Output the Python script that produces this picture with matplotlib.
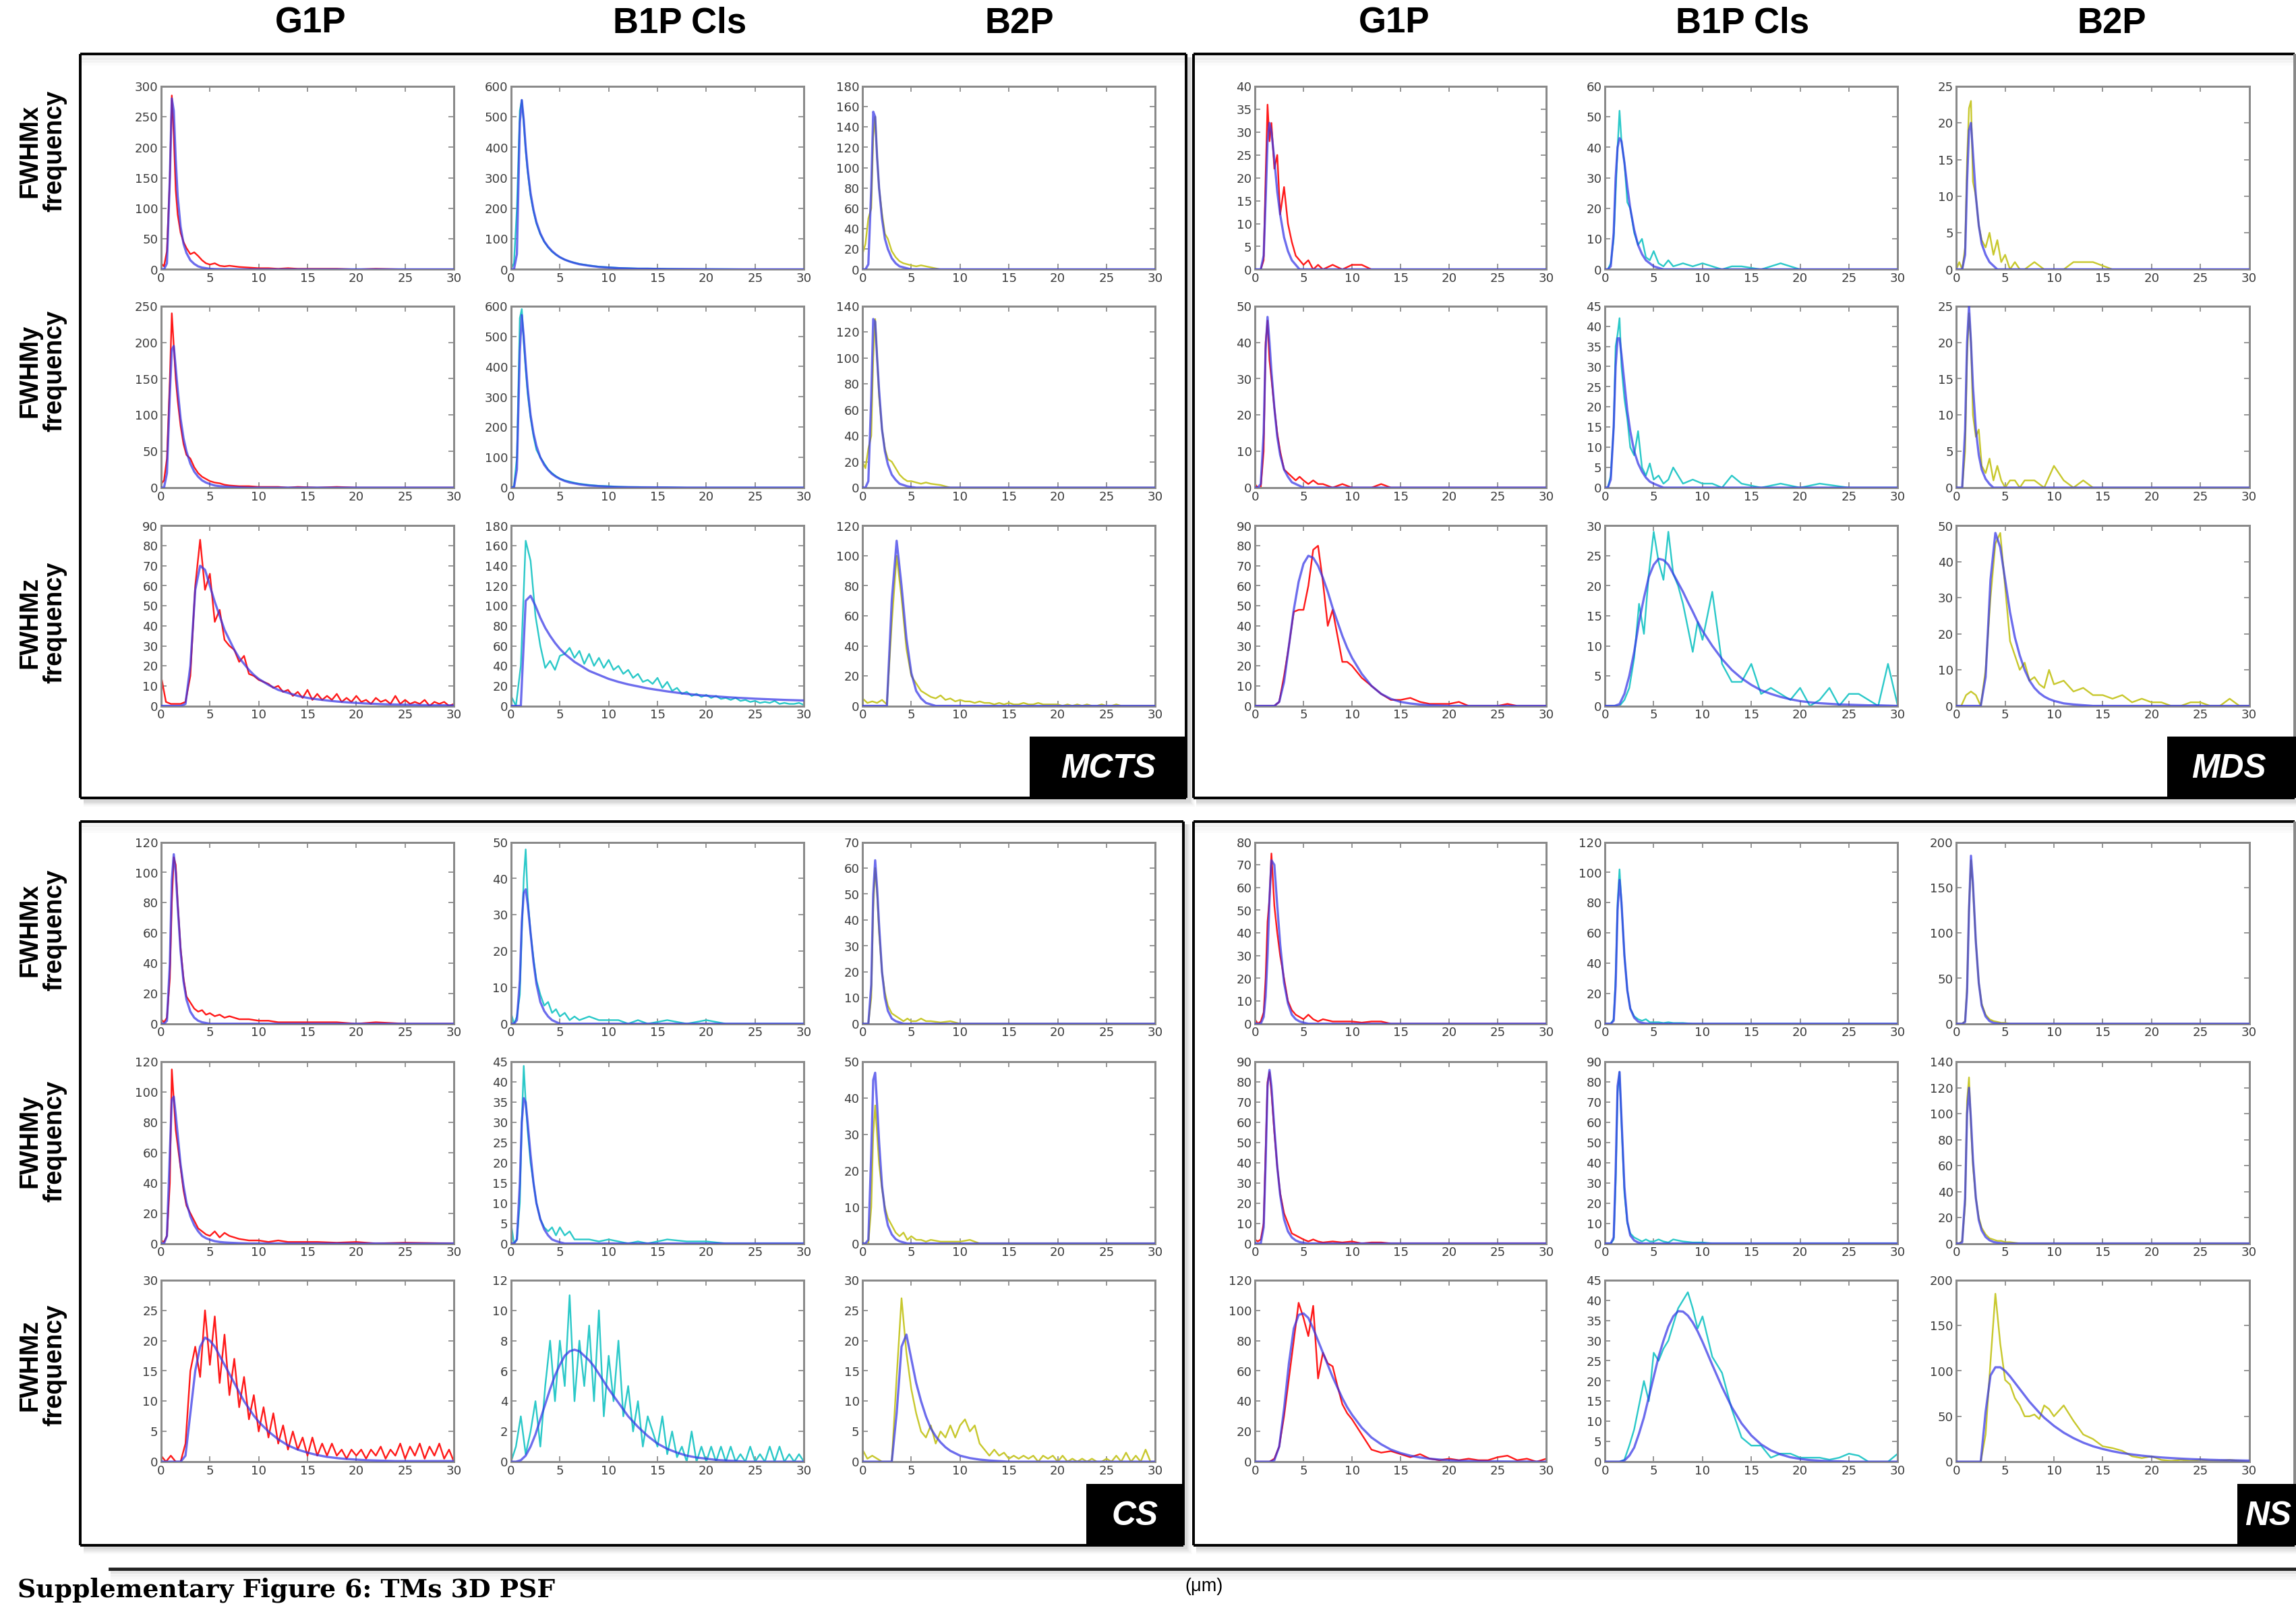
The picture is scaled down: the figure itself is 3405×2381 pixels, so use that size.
import numpy as np
import matplotlib
matplotlib.use('Agg')
import matplotlib.pyplot as plt
from matplotlib.patches import Rectangle

plt.rcParams['font.family'] = ['DejaVu Sans']

# ---------- x grids (um) ----------
# rows x / y : narrow peaks near 1 um
GA = [0, 0.3, 0.6, 0.9, 1.1, 1.3, 1.5, 1.7, 2.0, 2.3, 2.6, 3.0, 3.4, 3.8, 4.2, 4.6,
      5.0, 5.5, 6.0, 6.5, 7, 8, 9, 10, 11, 12, 13, 14, 16, 18, 20, 22, 25, 30]
# row z : broad fits
GB = [0, 0.5, 1, 1.5, 2, 2.5, 3, 3.5, 4, 4.5, 5, 5.5, 6, 6.5, 7, 7.5, 8, 8.5, 9, 9.5, 10,
      11, 12, 13, 14, 15, 16, 17, 18, 19, 20, 21, 22, 23, 24, 25, 26, 27, 28, 29, 30]
# row z : noisy histograms, 0.5 um bins
GD = [i / 2 for i in range(61)]

# ---------- MCTS ----------
MCTS_G1P_X_HIST = [10, 5, 30, 150, 285, 220, 130, 90, 60, 45, 35, 25, 28, 22, 15, 10, 8, 10, 6, 5, 6, 4, 3, 2, 2, 1, 2, 1, 1, 1, 0, 1, 0, 0]
MCTS_G1P_X_FIT = [0, 0, 10, 150, 280, 260, 180, 120, 70, 42, 27, 15, 9, 5, 3, 2, 1, 0.5, 0.3, 0.2, 0.1, 0, 0, 0, 0, 0, 0, 0, 0, 0, 0, 0, 0, 0]
MCTS_B1P_X_HIST = [0, 20, 200, 520, 555, 480, 390, 320, 240, 190, 150, 115, 90, 72, 58, 48, 40, 32, 26, 22, 18, 13, 9, 7, 5, 4, 3, 3, 2, 1, 1, 1, 0, 0]
MCTS_B1P_X_FIT = [0, 0, 50, 480, 555, 490, 400, 330, 250, 195, 155, 118, 92, 74, 60, 49, 40, 32, 26, 21, 17, 12, 8, 6, 4, 3, 2, 2, 1, 1, 0.5, 0, 0, 0]
MCTS_B2P_X_HIST = [15, 25, 50, 60, 130, 150, 110, 80, 55, 35, 30, 18, 12, 8, 6, 5, 4, 3, 4, 3, 2, 0, 0, 0, 0, 0, 0, 0, 0, 0, 0, 0, 0, 0]
MCTS_B2P_X_FIT = [0, 0, 5, 80, 155, 150, 110, 80, 50, 30, 20, 11, 6, 3, 2, 1] + [0] * 18
MCTS_G1P_Y_HIST = [5, 10, 40, 150, 240, 195, 150, 120, 85, 60, 45, 40, 28, 20, 15, 12, 9, 7, 6, 4, 3, 2, 2, 1, 1, 1, 0, 1, 0, 1, 0, 0, 0, 0]
MCTS_G1P_Y_FIT = [0, 0, 20, 130, 190, 195, 165, 135, 95, 68, 50, 33, 22, 15, 10, 7, 5, 3, 2, 1.5, 1, 0.5] + [0] * 12
MCTS_B1P_Y_HIST = [0, 5, 100, 560, 590, 480, 390, 310, 230, 170, 125, 100, 80, 60, 48, 38, 30, 24, 20, 16, 13, 9, 6, 5, 3, 2, 2, 1, 1, 0, 0, 0, 0, 0]
MCTS_B1P_Y_FIT = [0, 0, 60, 450, 570, 500, 410, 330, 240, 180, 138, 100, 75, 58, 45, 36, 29, 22, 17, 14, 11, 7, 5, 3, 2, 1.5, 1, 1, 0.5, 0, 0, 0, 0, 0]
MCTS_B2P_Y_HIST = [20, 15, 30, 40, 100, 130, 100, 70, 45, 30, 22, 20, 15, 10, 7, 5, 5, 4, 3, 4, 3, 2] + [0] * 12
MCTS_B2P_Y_FIT = [0, 0, 5, 70, 130, 128, 100, 75, 45, 28, 18, 10, 6, 3, 2, 1, 0.5] + [0] * 17
MCTS_G1P_Z_HIST = [15, 2, 1, 1, 1, 2, 15, 60, 83, 58, 66, 42, 48, 33, 30, 28, 22, 25, 16, 15,
                   13, 12, 11, 9, 10, 7, 8, 5, 7, 4, 8, 3, 6, 3, 5, 3, 6, 2, 4, 2,
                   5, 2, 3, 1, 4, 2, 3, 1, 5, 1, 3, 1, 2, 1, 3, 0, 2, 1, 2, 0, 1]
MCTS_G1P_Z_FIT = [0, 0, 0, 0, 0, 1, 20, 58, 70, 68, 60, 52, 45, 38, 33, 28, 24, 21, 18, 15.5,
                  13.5, 10.5, 8, 6.5, 5, 4, 3.3, 2.7, 2.2, 1.8, 1.5, 1.2, 1, 0.8, 0.7, 0.6, 0.5, 0.4, 0.3, 0.3, 0.2]
MCTS_B1P_Z_HIST = [10, 0, 40, 165, 145, 90, 60, 38, 45, 36, 50, 52, 58, 48, 55, 42, 52, 40, 48, 38,
                   46, 36, 40, 32, 36, 28, 32, 24, 26, 22, 28, 18, 24, 15, 18, 12, 14, 10, 12, 9,
                   11, 8, 10, 7, 8, 6, 8, 5, 6, 4, 5, 3, 4, 3, 5, 2, 3, 2, 2, 3, 1]
MCTS_B1P_Z_FIT = [0, 0, 0, 105, 110, 100, 88, 78, 70, 63, 57, 52, 48, 44, 41, 38, 35, 33, 31, 29,
                  27, 24, 21.5, 19.5, 17.5, 16, 14.5, 13.2, 12, 11, 10.2, 9.5, 8.8, 8.2, 7.7, 7.2, 6.8, 6.4, 6, 5.7, 5.4]
MCTS_B2P_Z_HIST = [5, 2, 3, 2, 4, 1, 55, 100, 72, 38, 20, 15, 10, 8, 6, 5, 7, 4, 5, 3,
                   4, 3, 3, 2, 3, 2, 2, 1, 2, 1, 2, 1, 1, 2, 1, 1, 2, 1, 1, 1,
                   1, 0, 1, 0, 1, 0, 1, 0, 0, 1, 0, 0, 1, 0, 0, 0, 0, 0, 0, 0, 0]
MCTS_B2P_Z_FIT = [0, 0, 0, 0, 0, 0, 70, 110, 80, 45, 22, 10, 5, 2, 1] + [0] * 26

# ---------- MDS ----------
MDS_G1P_X_HIST = [0, 0, 0, 2, 20, 36, 28, 32, 22, 25, 12, 18, 10, 6, 3, 2, 1, 2, 0, 1, 0, 1, 0, 1, 1, 0, 0, 0, 0, 0, 0, 0, 0, 0]
MDS_G1P_X_FIT = [0, 0, 0, 3, 15, 28, 32, 30, 24, 17, 12, 7, 4, 2, 1] + [0] * 19
MDS_B1P_X_HIST = [0, 0, 2, 10, 25, 40, 52, 42, 35, 22, 20, 12, 8, 10, 4, 3, 6, 2, 1, 3, 1, 2, 1, 2, 1, 0, 1, 1, 0, 2, 0, 0, 0, 0]
MDS_B1P_X_FIT = [0, 0, 1, 12, 30, 40, 43, 42, 35, 27, 20, 13, 8, 5, 3, 2, 1, 0.5] + [0] * 16
MDS_B2P_X_HIST = [0, 1, 0, 3, 15, 22, 23, 12, 10, 6, 4, 3, 5, 2, 4, 1, 2, 0, 1, 0, 0, 1, 0, 0, 0, 1, 1, 1, 0, 0, 0, 0, 0, 0]
MDS_B2P_X_FIT = [0, 0, 0, 2, 12, 19, 20, 16, 10, 6, 3.5, 2, 1, 0.5] + [0] * 20
MDS_G1P_Y_HIST = [1, 0, 0, 10, 40, 46, 35, 30, 22, 15, 10, 5, 4, 3, 2, 3, 2, 1, 2, 1, 1, 0, 1, 0, 0, 0, 1, 0, 0, 0, 0, 0, 0, 0]
MDS_G1P_Y_FIT = [0, 0, 1, 15, 38, 47, 40, 32, 22, 14, 9, 5, 3, 1.5, 1, 0.5] + [0] * 18
MDS_B1P_Y_HIST = [0, 0, 3, 15, 35, 38, 42, 30, 22, 17, 10, 8, 14, 5, 3, 6, 2, 3, 1, 2, 5, 1, 2, 1, 1, 0, 3, 1, 0, 1, 0, 1, 0, 0]
MDS_B1P_Y_FIT = [0, 0, 2, 15, 30, 37, 37, 33, 26, 19, 14, 9, 6, 4, 2.5, 1.5, 1, 0.5] + [0] * 16
MDS_B2P_Y_HIST = [0, 0, 0, 5, 18, 24, 20, 10, 7, 8, 3, 2, 4, 1, 3, 1, 0, 1, 1, 0, 1, 1, 0, 3, 1, 0, 1, 0, 0, 0, 0, 0, 0, 0]
MDS_B2P_Y_FIT = [0, 0, 0, 8, 20, 25, 20, 14, 8, 4.5, 2.5, 1.2, 0.5] + [0] * 21
MDS_G1P_Z_HIST = [0, 0, 0, 0, 0, 2, 15, 30, 47, 48, 48, 60, 78, 80, 62, 40, 48, 35, 22, 22,
                  20, 14, 10, 6, 3, 3, 4, 2, 1, 1, 1, 2, 0, 0, 0, 0, 1, 0, 0, 0, 0]
MDS_G1P_Z_FIT = [0, 0, 0, 0, 0, 2, 12, 30, 48, 62, 71, 75, 74, 70, 64, 57, 49, 42, 35, 29,
                 24, 16, 10, 6, 3.5, 2, 1.2, 0.7, 0.4, 0.2, 0, 0, 0, 0, 0, 0, 0, 0, 0, 0, 0]
MDS_B1P_Z_HIST = [0, 0, 0, 0, 1, 3, 8, 17, 12, 22, 29, 24, 21, 29, 22, 20, 17, 13, 9, 14,
                  11, 19, 7, 4, 4, 7, 2, 3, 2, 1, 3, 0, 1, 3, 0, 2, 2, 1, 0, 7, 0]
MDS_B1P_Z_FIT = [0, 0, 0, 0.3, 2, 5, 9, 14, 18, 21.5, 23.5, 24.5, 24.3, 23.5, 22, 20.5, 19, 17.3, 15.7, 14,
                 12.5, 10, 7.8, 6, 4.6, 3.5, 2.6, 2, 1.5, 1.1, 0.8, 0.6, 0.45, 0.35, 0.25, 0.2, 0.15, 0.1, 0.1, 0.05, 0]
MDS_B2P_Z_HIST = [0, 0, 3, 4, 3, 0, 10, 30, 45, 48, 33, 18, 14, 10, 12, 7, 8, 6, 5, 10,
                  6, 7, 4, 5, 3, 3, 2, 3, 1, 2, 1, 1, 0, 0, 1, 1, 0, 0, 2, 0, 0]
MDS_B2P_Z_FIT = [0, 0, 0, 0, 0, 0, 8, 35, 48, 44, 35, 26, 19, 14, 10, 7, 5, 3.6, 2.6, 1.9, 1.4, 0.7, 0.4, 0.2] + [0] * 17

# ---------- CS ----------
CS_G1P_X_HIST = [3, 1, 4, 30, 80, 110, 105, 80, 50, 30, 18, 14, 10, 8, 9, 6, 7, 5, 6, 4, 5, 3, 3, 2, 2, 1, 1, 1, 1, 1, 0, 1, 0, 0]
CS_G1P_X_FIT = [0, 0, 2, 40, 95, 112, 100, 78, 48, 28, 16, 8, 4, 2, 1, 0.5] + [0] * 18
CS_B1P_X_HIST = [3, 0, 2, 8, 25, 40, 48, 35, 25, 18, 12, 8, 5, 6, 3, 4, 2, 3, 1, 2, 1, 2, 1, 1, 1, 0, 1, 0, 1, 0, 1, 0, 0, 0]
CS_B1P_X_FIT = [0, 0, 1, 12, 28, 36, 37, 33, 25, 17, 11, 6, 3.5, 2, 1, 0.5] + [0] * 18
CS_B2P_X_HIST = [0, 0, 0, 10, 45, 60, 50, 35, 20, 12, 7, 4, 3, 2, 1, 2, 1, 1, 2, 1, 1, 0.5, 1, 0] + [0] * 10
CS_B2P_X_FIT = [0, 0, 0, 15, 50, 63, 52, 38, 20, 10, 5, 2, 1, 0.5] + [0] * 20
CS_G1P_Y_HIST = [2, 1, 5, 40, 115, 95, 75, 65, 50, 35, 25, 20, 15, 10, 8, 6, 5, 8, 4, 7, 5, 3, 2, 2, 1, 2, 1, 1, 1, 0.5, 1, 0, 0.5, 0]
CS_G1P_Y_FIT = [0, 0, 5, 60, 95, 97, 85, 72, 52, 38, 27, 18, 12, 8, 5, 3.5, 2.5, 1.5, 1, 0.7, 0.5, 0.2] + [0] * 12
CS_B1P_Y_HIST = [5, 0, 1, 10, 30, 44, 35, 28, 20, 15, 10, 6, 4, 3, 4, 2, 4, 2, 3, 1, 1, 1, 0.5, 1, 0.5, 0, 0.5, 0, 1, 0.5, 0.5, 0, 0, 0]
CS_B1P_Y_FIT = [0, 0, 1, 15, 30, 36, 35, 30, 22, 15, 10, 6, 3.5, 2, 1, 0.6, 0.3] + [0] * 17
CS_B2P_Y_HIST = [0, 0, 0, 10, 30, 38, 30, 22, 15, 10, 7, 5, 3, 2, 3, 1, 2, 1, 1, 0.5, 1, 0.5, 0.5, 0.5, 1] + [0] * 9
CS_B2P_Y_FIT = [0, 0, 1, 25, 45, 47, 38, 28, 16, 9, 5, 2.5, 1.2, 0.6, 0.3] + [0] * 19
CS_G1P_Z_HIST = [1, 0, 1, 0, 0, 3, 15, 19, 14, 25, 16, 24, 13, 21, 11, 17, 9, 14, 7, 11,
                 5, 9, 4, 8, 3, 6, 2, 5, 2, 4, 1, 4, 1, 3, 1, 3, 1, 2, 0.5, 2,
                 1, 2, 0.5, 2, 1, 2.5, 0.5, 2, 1, 3, 0.5, 2.5, 1, 3, 0.5, 2.5, 1, 3, 0.5, 2, 0]
CS_G1P_Z_FIT = [0, 0, 0, 0, 0, 1, 8, 15, 19, 20.5, 20, 19, 17.5, 16, 14.5, 13, 11.5, 10, 8.8, 7.6,
                6.6, 5, 3.7, 2.7, 2, 1.5, 1.1, 0.8, 0.6, 0.45, 0.35, 0.25, 0.2, 0.15, 0.1, 0.1, 0.1, 0.1, 0.1, 0.1, 0.1]
CS_B1P_Z_HIST = [0, 1, 3, 0.5, 2, 4, 1, 5, 8, 4, 8, 5, 11, 4, 8, 5, 9, 4, 10, 3,
                 7, 4, 8, 3, 5, 2, 4, 1, 3, 2, 1, 3, 0.5, 2, 0.3, 1, 0, 2, 0, 1,
                 0, 1, 0, 1, 0, 1, 0, 0.5, 0, 1, 0, 0.5, 0, 1, 0, 1, 0, 0.5, 0, 0.5, 0]
CS_B1P_Z_FIT = [0, 0, 0.1, 0.4, 1, 1.8, 2.8, 3.8, 4.8, 5.7, 6.4, 7, 7.3, 7.4, 7.3, 7, 6.7, 6.3, 5.8, 5.3,
                4.8, 3.9, 3, 2.3, 1.7, 1.2, 0.85, 0.6, 0.4, 0.28, 0.2, 0.12, 0.08, 0.05, 0, 0, 0, 0, 0, 0, 0]
CS_B2P_Z_HIST = [2, 0.5, 1, 0.5, 0, 0, 0, 14, 27, 18, 12, 8, 5, 4, 6, 3, 5, 4, 6, 4,
                 6, 7, 5, 6, 3, 2, 1, 2, 1, 1.5, 0.5, 1, 0.5, 1, 0.5, 1, 0, 1, 0.5, 1,
                 0, 1, 0, 0.5, 0, 0.5, 0, 0.5, 0, 0, 0.5, 0, 1, 0, 1.5, 0, 1, 0, 2, 0, 0]
CS_B2P_Z_FIT = [0, 0, 0, 0, 0, 0, 0, 8, 19, 21, 17, 13, 10, 7.5, 5.5, 4.2, 3.2, 2.4, 1.8, 1.4, 1, 0.6, 0.35, 0.2, 0.1] + [0] * 16

# ---------- NS ----------
NS_G1P_X_HIST = [2, 0, 1, 5, 20, 45, 55, 75, 52, 40, 30, 20, 10, 6, 4, 3, 2, 4, 2, 1, 2, 1, 1, 1, 0.5, 1, 1, 0, 0, 0, 0, 0, 0, 0]
NS_G1P_X_FIT = [0, 0, 0, 3, 12, 30, 55, 72, 70, 52, 35, 18, 9, 4, 2, 1, 0.5] + [0] * 17
NS_B1P_X_HIST = [0, 0, 0, 3, 30, 80, 102, 80, 45, 22, 10, 5, 3, 2, 3, 1, 1, 1, 0.5, 1, 0.5, 0.5] + [0] * 12
NS_B1P_X_FIT = [0, 0, 0, 2, 25, 75, 95, 80, 45, 22, 10, 4, 1.5, 0.6, 0.2] + [0] * 19
NS_B2P_X_HIST = [0, 0, 0, 3, 40, 130, 180, 150, 90, 45, 22, 10, 5, 3, 2, 1, 1] + [0] * 17
NS_B2P_X_FIT = [0, 0, 0, 2, 35, 125, 185, 155, 90, 45, 20, 8, 3, 1, 0.5] + [0] * 19
NS_G1P_Y_HIST = [2, 1, 2, 10, 45, 80, 85, 75, 55, 38, 25, 15, 10, 5, 4, 3, 2, 1, 2, 1, 0.5, 1, 0.5, 1, 0, 0.5, 0.5, 0, 0, 0, 0, 0, 0, 0]
NS_G1P_Y_FIT = [0, 0, 0, 8, 40, 78, 86, 78, 57, 38, 24, 12, 6, 3, 1.5, 0.7, 0.3] + [0] * 17
NS_B1P_Y_HIST = [0, 0, 0, 2, 30, 75, 85, 60, 25, 10, 5, 3, 2, 1, 2, 1, 1, 2, 1, 0.5, 2, 1, 0.5, 0.5] + [0] * 10
NS_B1P_Y_FIT = [0, 0, 0, 3, 35, 78, 85, 62, 28, 11, 4, 1.5, 0.5] + [0] * 21
NS_B2P_Y_HIST = [0, 0, 2, 30, 110, 128, 90, 60, 35, 20, 12, 7, 4, 3, 2, 2, 1, 1, 0.5] + [0] * 15
NS_B2P_Y_FIT = [0, 0, 1, 35, 100, 120, 95, 65, 35, 18, 10, 5, 2.5, 1.2, 0.6, 0.3] + [0] * 18
NS_G1P_Z_HIST = [0, 0, 0, 0, 2, 10, 30, 55, 80, 105, 95, 83, 103, 55, 72, 65, 63, 50, 38, 32,
                 28, 18, 8, 6, 7, 5, 3, 5, 2, 1, 2, 1, 2, 1, 1, 3, 4, 1, 2, 0, 2]
NS_G1P_Z_FIT = [0, 0, 0, 0, 1, 10, 35, 65, 88, 97, 98, 95, 88, 80, 72, 64, 56, 49, 42, 36,
                31, 22.5, 16, 11.5, 8, 5.7, 4, 2.8, 2, 1.4, 1, 0.7, 0.5, 0.35, 0.25, 0.2, 0.15, 0.1, 0.1, 0.05, 0]
NS_B1P_Z_HIST = [0, 0, 0, 0, 0.5, 4, 8, 14, 20, 15, 27, 25, 28, 30, 34, 38, 40, 42, 38, 33,
                 36, 26, 22, 13, 6, 4, 4, 1, 2, 2, 1, 1, 1, 0.5, 1, 2, 1.5, 0, 0, 0, 2]
NS_B1P_Z_FIT = [0, 0, 0, 0, 0.3, 1.5, 3.5, 7, 11, 16, 21, 26, 30, 33.5, 36, 37.3, 37.2, 36.2, 34.5, 32.3,
                29.7, 24, 18.5, 13.5, 9.5, 6.5, 4.3, 2.8, 1.8, 1.1, 0.7, 0.4, 0.25, 0.15, 0.1, 0, 0, 0, 0, 0, 0]
NS_B2P_Z_HIST = [0, 0, 0, 0, 0, 0, 30, 110, 185, 130, 90, 85, 70, 62, 50, 50, 52, 47, 62, 58,
                 50, 62, 45, 30, 25, 17, 15, 12, 6, 4, 6, 2, 1, 2, 1, 2, 1, 1, 2, 1, 0]
NS_B2P_Z_FIT = [0, 0, 0, 0, 0, 0, 55, 95, 104, 104, 100, 94, 87, 80, 73, 66, 60, 54, 48.5, 44,
                39.5, 32, 26, 21, 17, 14, 11.5, 9.5, 8, 6.7, 5.6, 4.7, 4, 3.4, 2.9, 2.5, 2.1, 1.8, 1.6, 1.4, 1.2]

# y-axis top and tick step per cell, rows x / y / z, columns G1P / B1P Cls / B2P
MCTS_YLIM = [[(300, 50), (600, 100), (180, 20)], [(250, 50), (600, 100), (140, 20)], [(90, 10), (180, 20), (120, 20)]]
MDS_YLIM = [[(40, 5), (60, 10), (25, 5)], [(50, 10), (45, 5), (25, 5)], [(90, 10), (30, 5), (50, 10)]]
CS_YLIM = [[(120, 20), (50, 10), (70, 10)], [(120, 20), (45, 5), (50, 10)], [(30, 5), (12, 2), (30, 5)]]
NS_YLIM = [[(80, 10), (120, 20), (200, 50)], [(90, 10), (90, 10), (140, 20)], [(120, 20), (45, 5), (200, 50)]]

COLUMNS = ['G1P', 'B1P Cls', 'B2P']
ROW_LABELS = ['FWHMx\nfrequency', 'FWHMy\nfrequency', 'FWHMz\nfrequency']
HIST_COLORS = ['#ff1a1a', '#2cc9c9', '#c8c82e']
FIT_COLOR = '#3535e6'

# ---------- layout (pixels of a 1568 x 1096.5 canvas) ----------
W, H = 1568.0, 1096.5
LEFT_COLS = [(110, 310), (349, 549), (589, 789)]
RIGHT_COLS = [(857, 1056), (1096, 1296), (1336, 1536)]
TOP_ROWS = [(59, 184), (209, 333), (359, 482)]
BOT_ROWS = [(575, 699), (725, 849), (874, 998)]

fig = plt.figure(figsize=(15.68, 10.965), dpi=217.16)
fig.patch.set_facecolor('white')

bg = fig.add_axes([0, 0, 1, 1], zorder=0)
bg.set_xlim(0, W)
bg.set_ylim(H, 0)
bg.axis('off')


def panel_box(x0, y0, x1, y1, right_color='black'):
    # soft drop shadow
    for k, a in enumerate([0.10, 0.07, 0.05, 0.03]):
        bg.add_patch(Rectangle((x0 + 2, y0 + 2), x1 - x0 + 1 + k, y1 - y0 + 1 + k,
                               facecolor='#606060', edgecolor='none', alpha=a, zorder=1))
    bg.add_patch(Rectangle((x0, y0), x1 - x0, y1 - y0, facecolor='white', edgecolor='none', zorder=2))
    # faint inner shade along the top
    for k, a in enumerate([0.10, 0.06, 0.03]):
        bg.plot([x0 + 1, x1 - 1], [y0 + 2 + 2 * k, y0 + 2 + 2 * k], color='#808080', alpha=a, lw=2.2, zorder=3)
    bg.plot([x0, x1], [y0, y0], color='black', lw=1.3, zorder=4, solid_capstyle='butt')
    bg.plot([x0, x1], [y1, y1], color='black', lw=1.3, zorder=4, solid_capstyle='butt')
    bg.plot([x0, x0], [y0, y1], color='black', lw=1.3, zorder=4, solid_capstyle='butt')
    bg.plot([x1, x1], [y0, y1], color=right_color, lw=1.3, zorder=4, solid_capstyle='butt')


def tag(x0, x1, y0, y1, text, tx):
    bg.add_patch(Rectangle((x0, y0), x1 - x0, y1 - y0, facecolor='black', edgecolor='none', zorder=5))
    bg.text(tx, (y0 + y1) / 2 + 1, text, color='white', fontsize=16.5, fontweight='bold', fontstyle='italic',
            family=['Liberation Sans', 'DejaVu Sans'], ha='center', va='center', zorder=6)


panel_box(55, 37, 810, 545)
panel_box(815, 37, 1567, 545, right_color='#888888')
panel_box(55, 561, 808, 1055)
panel_box(815, 561, 1567, 1055, right_color='#888888')

tag(703, 810, 503, 545, 'MCTS', 757)
tag(1480, 1568, 503, 545, 'MDS', 1522)
tag(742, 808, 1013, 1055, 'CS', 775)
tag(1528, 1568, 1013, 1055, 'NS', 1549)

# column headers
for cx, name in zip([212, 464, 696, 952, 1190, 1442], COLUMNS * 2):
    bg.text(cx, 16, name, fontsize=17.5, fontweight='bold', family=['Liberation Sans', 'DejaVu Sans'],
            ha='center', va='center', zorder=6)

# row labels
for cy, lab in zip([103, 253, 425, 635, 779, 932], ROW_LABELS * 2):
    bg.text(29, cy, lab, fontsize=12.5, fontweight='bold', family=['Liberation Sans', 'DejaVu Sans'],
            rotation=90, ha='center', va='center', linespacing=1.05, zorder=6)

# bottom rule, unit and caption
for k, a in enumerate([0.12, 0.07, 0.04]):
    bg.plot([77, 1568], [1073 + 2 * k, 1073 + 2 * k], color='#606060', alpha=a, lw=2, zorder=1)
bg.plot([75, 1568], [1071, 1071], color='#222222', lw=1.6, zorder=2)
bg.text(822, 1083, '(\u03bcm)', fontsize=9, family=['Liberation Sans', 'DejaVu Sans'],
        ha='center', va='center', zorder=6)
bg.text(12, 1094, 'Supplementary Figure 6: TMs 3D PSF', fontsize=12.5, fontweight='bold',
        family=['DejaVu Serif'], ha='left', va='bottom', zorder=6)

PANELS = [
    ('MCTS', LEFT_COLS, TOP_ROWS, MCTS_YLIM,
     [[(GA, MCTS_G1P_X_HIST, GA, MCTS_G1P_X_FIT), (GA, MCTS_B1P_X_HIST, GA, MCTS_B1P_X_FIT), (GA, MCTS_B2P_X_HIST, GA, MCTS_B2P_X_FIT)],
      [(GA, MCTS_G1P_Y_HIST, GA, MCTS_G1P_Y_FIT), (GA, MCTS_B1P_Y_HIST, GA, MCTS_B1P_Y_FIT), (GA, MCTS_B2P_Y_HIST, GA, MCTS_B2P_Y_FIT)],
      [(GD, MCTS_G1P_Z_HIST, GB, MCTS_G1P_Z_FIT), (GD, MCTS_B1P_Z_HIST, GB, MCTS_B1P_Z_FIT), (GD, MCTS_B2P_Z_HIST, GB, MCTS_B2P_Z_FIT)]]),
    ('MDS', RIGHT_COLS, TOP_ROWS, MDS_YLIM,
     [[(GA, MDS_G1P_X_HIST, GA, MDS_G1P_X_FIT), (GA, MDS_B1P_X_HIST, GA, MDS_B1P_X_FIT), (GA, MDS_B2P_X_HIST, GA, MDS_B2P_X_FIT)],
      [(GA, MDS_G1P_Y_HIST, GA, MDS_G1P_Y_FIT), (GA, MDS_B1P_Y_HIST, GA, MDS_B1P_Y_FIT), (GA, MDS_B2P_Y_HIST, GA, MDS_B2P_Y_FIT)],
      [(GB, MDS_G1P_Z_HIST, GB, MDS_G1P_Z_FIT), (GB, MDS_B1P_Z_HIST, GB, MDS_B1P_Z_FIT), (GB, MDS_B2P_Z_HIST, GB, MDS_B2P_Z_FIT)]]),
    ('CS', LEFT_COLS, BOT_ROWS, CS_YLIM,
     [[(GA, CS_G1P_X_HIST, GA, CS_G1P_X_FIT), (GA, CS_B1P_X_HIST, GA, CS_B1P_X_FIT), (GA, CS_B2P_X_HIST, GA, CS_B2P_X_FIT)],
      [(GA, CS_G1P_Y_HIST, GA, CS_G1P_Y_FIT), (GA, CS_B1P_Y_HIST, GA, CS_B1P_Y_FIT), (GA, CS_B2P_Y_HIST, GA, CS_B2P_Y_FIT)],
      [(GD, CS_G1P_Z_HIST, GB, CS_G1P_Z_FIT), (GD, CS_B1P_Z_HIST, GB, CS_B1P_Z_FIT), (GD, CS_B2P_Z_HIST, GB, CS_B2P_Z_FIT)]]),
    ('NS', RIGHT_COLS, BOT_ROWS, NS_YLIM,
     [[(GA, NS_G1P_X_HIST, GA, NS_G1P_X_FIT), (GA, NS_B1P_X_HIST, GA, NS_B1P_X_FIT), (GA, NS_B2P_X_HIST, GA, NS_B2P_X_FIT)],
      [(GA, NS_G1P_Y_HIST, GA, NS_G1P_Y_FIT), (GA, NS_B1P_Y_HIST, GA, NS_B1P_Y_FIT), (GA, NS_B2P_Y_HIST, GA, NS_B2P_Y_FIT)],
      [(GB, NS_G1P_Z_HIST, GB, NS_G1P_Z_FIT), (GB, NS_B1P_Z_HIST, GB, NS_B1P_Z_FIT), (GB, NS_B2P_Z_HIST, GB, NS_B2P_Z_FIT)]]),
]

for name, cols, rows, ylims, cells in PANELS:
    for r, (y0, y1) in enumerate(rows):
        for c, (x0, x1) in enumerate(cols):
            hx, hy, fx, fy = cells[r][c]
            ymax, ystep = ylims[r][c]
            if len(hx) != len(hy) or len(fx) != len(fy):
                print('length mismatch', name, r, c, len(hx), len(hy), len(fx), len(fy))
            ax = fig.add_axes([x0 / W, 1 - y1 / H, (x1 - x0) / W, (y1 - y0) / H], zorder=3)
            n = min(len(hx), len(hy))
            ax.plot(hx[:n], hy[:n], color=HIST_COLORS[c], lw=0.8, zorder=2)
            m = min(len(fx), len(fy))
            ax.plot(fx[:m], fy[:m], color=FIT_COLOR, lw=1.1, alpha=0.72, zorder=3)
            ax.set_xlim(0, 30)
            ax.set_ylim(0, ymax)
            ax.set_xticks(range(0, 31, 5))
            ax.set_yticks(range(0, ymax + 1, ystep))
            for sp in ax.spines.values():
                sp.set_color('#8a8a8a')
                sp.set_linewidth(1.0)
            ax.tick_params(direction='in', length=2.5, width=0.5, color='#777777',
                           top=True, right=True, labelsize=6.0, labelcolor='#3a3a3a', pad=1.5)

fig.savefig('out.png', dpi=217.16, facecolor='white')
